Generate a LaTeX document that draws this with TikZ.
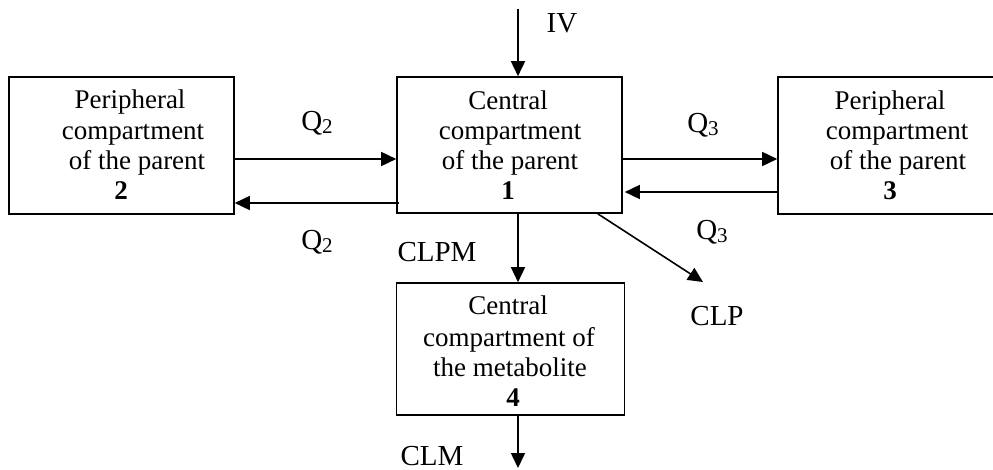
\documentclass[tikz,border=0pt]{standalone}
\usepackage{fontspec}
\setmainfont{Liberation Serif}
\usetikzlibrary{arrows.meta}
\tikzset{
  box/.style={draw, line width=1.6pt, rectangle, inner sep=0pt, minimum width=#1},
  box/.default=225pt,
  txt/.style={inner sep=0pt, anchor=base, font=\fontsize{27}{30}\selectfont},
  lbl/.style={inner sep=0pt, anchor=base, font=\fontsize{29}{32}\selectfont},
  arr/.style={line width=1.6pt, -{Triangle[length=15pt,width=14pt]}},
}
\newcommand{\mysub}[1]{\raisebox{-0.22ex}{\fontsize{21}{22}\selectfont #1}}
\begin{document}
\begin{tikzpicture}[x=1pt,y=-1pt]
\useasboundingbox (0,0) rectangle (993,470);
\clip (0,0) rectangle (993,470);
% boxes
\node[box=225pt, minimum height=137pt] (b2) at (121.5,145.5) {};
\node[box=225pt, minimum height=136pt] (b1) at (509.5,145) {};
\node[box=232pt, minimum height=137pt] (b3) at (894,145.5) {};
\node[box=228pt, minimum height=132pt] (b4) at (510.5,349) {};
% box 2 text
\node[txt] (t2a) at (130,109) {Peripheral};
\node[txt] (t2b) at (133,140) {compartment};
\node[txt] (t2c) at (137,170) {of the parent};
\node[txt] (t2d) at (121,200) {\bfseries 2};
% box 1 text
\node[txt] (t1a) at (508,110) {Central};
\node[txt] (t1b) at (510,140) {compartment};
\node[txt] (t1c) at (510,170) {of the parent};
\node[txt] (t1d) at (508,200) {\bfseries 1};
% box 3 text
\node[txt] (t3a) at (890,110) {Peripheral};
\node[txt] (t3b) at (897,140) {compartment};
\node[txt] (t3c) at (898,170) {of the parent};
\node[txt] (t3d) at (890,200) {\bfseries 3};
% box 4 text
\node[txt] (t4a) at (508,315) {Central};
\node[txt] (t4b) at (509,346) {compartment of};
\node[txt] (t4c) at (510,376) {the metabolite};
\node[txt] (t4d) at (513,406) {\bfseries 4};
% labels
\node[lbl] (liv) at (562,33) {IV};
\node[lbl] (lq2a) at (317,131) {Q\mysub{2}};
\node[lbl] (lq2b) at (317,250) {Q\mysub{2}};
\node[lbl] (lq3a) at (703,133) {Q\mysub{3}};
\node[lbl] (lq3b) at (712,240) {Q\mysub{3}};
\node[lbl] (lclpm) at (437,262) {CLPM};
\node[lbl] (lclp) at (717,325) {CLP};
\node[lbl] (lclm) at (432,465) {CLM};
% free ends
\coordinate (ivs) at (518,9);
\coordinate (clpe) at (703,282);
\coordinate (clme) at (518,468);
% connectors
\draw[arr] (ivs) -- (ivs |- b1.north);
\draw[arr] (b2.east |- 0,159) -- (b1.west |- 0,159);
\draw[arr] ([xshift=3pt]b1.west |- 0,203) -- (b2.east |- 0,203);
\draw[arr] (b1.east |- 0,159) -- (b3.west |- 0,159);
\draw[arr] (b3.west |- 0,192) -- ([xshift=2pt]b1.east |- 0,192);
\draw[arr] (ivs |- b1.south) -- (ivs |- b4.north);
\draw[arr] ([xshift=-25pt]b1.south east) -- (clpe);
\draw[arr] (ivs |- b4.south) -- (clme);
\end{tikzpicture}
\end{document}
